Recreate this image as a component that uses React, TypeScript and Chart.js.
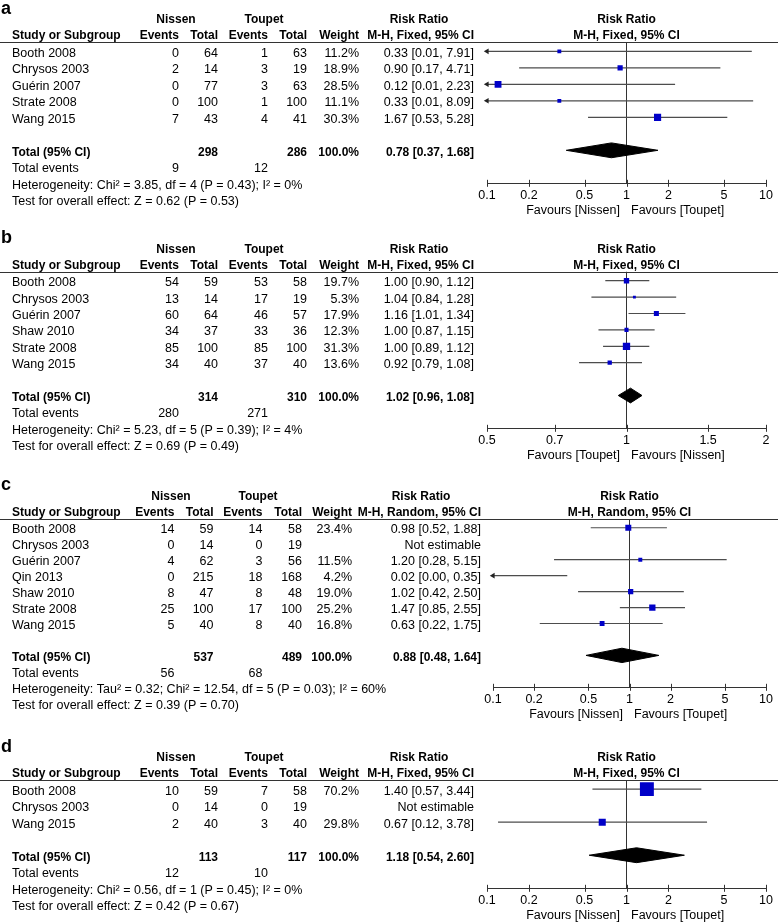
import React, { useEffect, useRef } from "react";
import { Chart, registerables } from "chart.js";
Chart.register(...registerables);

const FONT = '"Liberation Sans", Arial, Helvetica, sans-serif';

// ---------- Panel a ----------
const A_STUDY = ["Booth 2008", "Chrysos 2003", "Guérin 2007", "Strate 2008", "Wang 2015"];
const A_NISSEN_EVENTS = [0, 2, 0, 0, 7];
const A_NISSEN_TOTAL = [64, 14, 77, 100, 43];
const A_TOUPET_EVENTS = [1, 3, 3, 1, 4];
const A_TOUPET_TOTAL = [63, 19, 63, 100, 41];
const A_WEIGHT = [11.2, 18.9, 28.5, 11.1, 30.3];
const A_RR = [0.33, 0.9, 0.12, 0.33, 1.67];
const A_LO = [0.01, 0.17, 0.01, 0.01, 0.53];
const A_HI = [7.91, 4.71, 2.23, 8.09, 5.28];
const A_TOTALS = [298, 286];
const A_TOTAL_EVENTS = [9, 12];
const A_POOLED = [0.78, 0.37, 1.68];
const A_HET = "Heterogeneity: Chi² = 3.85, df = 4 (P = 0.43); I² = 0%";
const A_TEST = "Test for overall effect: Z = 0.62 (P = 0.53)";
const A_TICKS = [0.1, 0.2, 0.5, 1, 2, 5, 10];
const A_FAVOURS = ["Favours [Nissen]", "Favours [Toupet]"];

// ---------- Panel b ----------
const B_STUDY = ["Booth 2008", "Chrysos 2003", "Guérin 2007", "Shaw 2010", "Strate 2008", "Wang 2015"];
const B_NISSEN_EVENTS = [54, 13, 60, 34, 85, 34];
const B_NISSEN_TOTAL = [59, 14, 64, 37, 100, 40];
const B_TOUPET_EVENTS = [53, 17, 46, 33, 85, 37];
const B_TOUPET_TOTAL = [58, 19, 57, 36, 100, 40];
const B_WEIGHT = [19.7, 5.3, 17.9, 12.3, 31.3, 13.6];
const B_RR = [1.0, 1.04, 1.16, 1.0, 1.0, 0.92];
const B_LO = [0.9, 0.84, 1.01, 0.87, 0.89, 0.79];
const B_HI = [1.12, 1.28, 1.34, 1.15, 1.12, 1.08];
const B_TOTALS = [314, 310];
const B_TOTAL_EVENTS = [280, 271];
const B_POOLED = [1.02, 0.96, 1.08];
const B_HET = "Heterogeneity: Chi² = 5.23, df = 5 (P = 0.39); I² = 4%";
const B_TEST = "Test for overall effect: Z = 0.69 (P = 0.49)";
const B_TICKS = [0.5, 0.7, 1, 1.5, 2];
const B_FAVOURS = ["Favours [Toupet]", "Favours [Nissen]"];

// ---------- Panel c ----------
const C_STUDY = ["Booth 2008", "Chrysos 2003", "Guérin 2007", "Qin 2013", "Shaw 2010", "Strate 2008", "Wang 2015"];
const C_NISSEN_EVENTS = [14, 0, 4, 0, 8, 25, 5];
const C_NISSEN_TOTAL = [59, 14, 62, 215, 47, 100, 40];
const C_TOUPET_EVENTS = [14, 0, 3, 18, 8, 17, 8];
const C_TOUPET_TOTAL = [58, 19, 56, 168, 48, 100, 40];
const C_WEIGHT = [23.4, null, 11.5, 4.2, 19.0, 25.2, 16.8];
const C_RR = [0.98, null, 1.2, 0.02, 1.02, 1.47, 0.63];
const C_LO = [0.52, null, 0.28, 0.0, 0.42, 0.85, 0.22];
const C_HI = [1.88, null, 5.15, 0.35, 2.5, 2.55, 1.75];
const C_TOTALS = [537, 489];
const C_TOTAL_EVENTS = [56, 68];
const C_POOLED = [0.88, 0.48, 1.64];
const C_HET = "Heterogeneity: Tau² = 0.32; Chi² = 12.54, df = 5 (P = 0.03); I² = 60%";
const C_TEST = "Test for overall effect: Z = 0.39 (P = 0.70)";
const C_TICKS = [0.1, 0.2, 0.5, 1, 2, 5, 10];
const C_FAVOURS = ["Favours [Nissen]", "Favours [Toupet]"];

// ---------- Panel d ----------
const D_STUDY = ["Booth 2008", "Chrysos 2003", "Wang 2015"];
const D_NISSEN_EVENTS = [10, 0, 2];
const D_NISSEN_TOTAL = [59, 14, 40];
const D_TOUPET_EVENTS = [7, 0, 3];
const D_TOUPET_TOTAL = [58, 19, 40];
const D_WEIGHT = [70.2, null, 29.8];
const D_RR = [1.4, null, 0.67];
const D_LO = [0.57, null, 0.12];
const D_HI = [3.44, null, 3.78];
const D_TOTALS = [113, 117];
const D_TOTAL_EVENTS = [12, 10];
const D_POOLED = [1.18, 0.54, 2.6];
const D_HET = "Heterogeneity: Chi² = 0.56, df = 1 (P = 0.45); I² = 0%";
const D_TEST = "Test for overall effect: Z = 0.42 (P = 0.67)";
const D_TICKS = [0.1, 0.2, 0.5, 1, 2, 5, 10];
const D_FAVOURS = ["Favours [Nissen]", "Favours [Toupet]"];

type Panel = {
  letter: string;
  method: string;
  study: string[];
  ne: number[];
  nt: number[];
  te: number[];
  tt: number[];
  w: (number | null)[];
  rr: (number | null)[];
  lo: (number | null)[];
  hi: (number | null)[];
  totals: number[];
  totalEvents: number[];
  pooled: number[];
  het: string;
  test: string;
  ticks: number[];
  favours: string[];
  // layout
  top: number;
  height: number;
  headerY: number;
  axisY: number;
  plotL: number;
  plotR: number;
  cols: number[];
  nisC: number;
  touC: number;
  rrHeadC: number;
};

const COLS_STD = [179, 218, 268, 307, 359, 474];
const COLS_C = [174.5, 213.5, 262.5, 302, 352, 481];

const PANELS: Panel[] = [
  {
    letter: "a", method: "M-H, Fixed, 95% CI",
    study: A_STUDY, ne: A_NISSEN_EVENTS, nt: A_NISSEN_TOTAL, te: A_TOUPET_EVENTS, tt: A_TOUPET_TOTAL,
    w: A_WEIGHT, rr: A_RR, lo: A_LO, hi: A_HI, totals: A_TOTALS, totalEvents: A_TOTAL_EVENTS,
    pooled: A_POOLED, het: A_HET, test: A_TEST, ticks: A_TICKS, favours: A_FAVOURS,
    top: 0, height: 222, headerY: 42.3, axisY: 183.3, plotL: 487, plotR: 766,
    cols: COLS_STD, nisC: 176, touC: 264, rrHeadC: 419,
  },
  {
    letter: "b", method: "M-H, Fixed, 95% CI",
    study: B_STUDY, ne: B_NISSEN_EVENTS, nt: B_NISSEN_TOTAL, te: B_TOUPET_EVENTS, tt: B_TOUPET_TOTAL,
    w: B_WEIGHT, rr: B_RR, lo: B_LO, hi: B_HI, totals: B_TOTALS, totalEvents: B_TOTAL_EVENTS,
    pooled: B_POOLED, het: B_HET, test: B_TEST, ticks: B_TICKS, favours: B_FAVOURS,
    top: 222, height: 240, headerY: 271.7, axisY: 428.3, plotL: 487, plotR: 766,
    cols: COLS_STD, nisC: 176, touC: 264, rrHeadC: 419,
  },
  {
    letter: "c", method: "M-H, Random, 95% CI",
    study: C_STUDY, ne: C_NISSEN_EVENTS, nt: C_NISSEN_TOTAL, te: C_TOUPET_EVENTS, tt: C_TOUPET_TOTAL,
    w: C_WEIGHT, rr: C_RR, lo: C_LO, hi: C_HI, totals: C_TOTALS, totalEvents: C_TOTAL_EVENTS,
    pooled: C_POOLED, het: C_HET, test: C_TEST, ticks: C_TICKS, favours: C_FAVOURS,
    top: 462, height: 260, headerY: 519, axisY: 687.3, plotL: 493, plotR: 766,
    cols: COLS_C, nisC: 171, touC: 258, rrHeadC: 421,
  },
  {
    letter: "d", method: "M-H, Fixed, 95% CI",
    study: D_STUDY, ne: D_NISSEN_EVENTS, nt: D_NISSEN_TOTAL, te: D_TOUPET_EVENTS, tt: D_TOUPET_TOTAL,
    w: D_WEIGHT, rr: D_RR, lo: D_LO, hi: D_HI, totals: D_TOTALS, totalEvents: D_TOTAL_EVENTS,
    pooled: D_POOLED, het: D_HET, test: D_TEST, ticks: D_TICKS, favours: D_FAVOURS,
    top: 722, height: 201, headerY: 780, axisY: 888.3, plotL: 487, plotR: 766,
    cols: COLS_STD, nisC: 176, touC: 264, rrHeadC: 419,
  },
];

const W = 778;
const FS = 12.5;
const FSB = 12;
const TICK_PAD = 5;
const AXIS_H = FS * 1.2 + 2 * TICK_PAD;
const ROW_OFF = 0.55; // header line sits this many rows above first study
const DIAMOND_HALF = 0.45;
const MARKER_COLOR = "#0000c8";
const LINE_COLOR = "#4d4d4d";
const AXIS_COLOR = "#333333";

const markerSide = (w: number) => 2 + 0.17 * w;
const f2 = (v: number) => v.toFixed(2);
const ciText = (r: number, l: number, h: number) => `${f2(r)} [${f2(l)}, ${f2(h)}]`;

function txt(ctx: CanvasRenderingContext2D, s: string, x: number, y: number, align: CanvasTextAlign, bold = false, size?: number) {
  const sz = size ?? (bold ? FSB : FS);
  ctx.font = `${bold ? "bold " : ""}${sz}px ${FONT}`;
  ctx.textAlign = align;
  ctx.textBaseline = "middle";
  ctx.fillStyle = "#000";
  ctx.fillText(s, x, y);
}

function PanelChart({ p }: { p: Panel }) {
  const ref = useRef<HTMLCanvasElement | null>(null);
  useEffect(() => {
    const canvas = ref.current;
    if (!canvas) return;
    const n = p.study.length;
    const yMin = -ROW_OFF;
    const yMax = n + 3;
    const totRow = n + 1;
    const xMin = p.ticks[0];
    const xMax = p.ticks[p.ticks.length - 1];

    const datasets: any[] = [];
    // study markers (top-most)
    const pts: any[] = [];
    p.rr.forEach((r, i) => {
      if (r != null && r >= xMin && r <= xMax) pts.push({ x: r, y: i, w: p.w[i] });
    });
    datasets.push({
      type: "line", label: "Studies", data: pts, showLine: false,
      pointStyle: "rect",
      pointRadius: (c: any) => (c.raw ? markerSide(c.raw.w) / Math.SQRT2 : 0),
      pointBackgroundColor: MARKER_COLOR, pointBorderWidth: 0, pointBorderColor: MARKER_COLOR,
    });
    // arrows where CI goes off scale
    const arrows: any[] = [];
    p.lo.forEach((l, i) => {
      if (l != null && l < xMin) arrows.push({ x: xMin, y: i, dir: 270 });
      const h = p.hi[i];
      if (h != null && h > xMax) arrows.push({ x: xMax, y: i, dir: 90 });
    });
    datasets.push({
      type: "line", label: "Arrows", data: arrows, showLine: false, clip: false,
      pointStyle: "triangle", pointRadius: 3.2,
      pointRotation: (c: any) => (c.raw ? c.raw.dir : 0),
      pointBackgroundColor: "#222", pointBorderWidth: 0,
    });
    // pooled diamond
    const [est, plo, phi] = p.pooled;
    datasets.push({
      type: "line", label: "Pooled upper",
      data: [{ x: plo, y: totRow }, { x: est, y: totRow - DIAMOND_HALF }, { x: phi, y: totRow }],
      borderColor: "#000", borderWidth: 1, pointRadius: 0, tension: 0,
      fill: "+1", backgroundColor: "#000",
    });
    datasets.push({
      type: "line", label: "Pooled lower",
      data: [{ x: plo, y: totRow }, { x: est, y: totRow + DIAMOND_HALF }, { x: phi, y: totRow }],
      borderColor: "#000", borderWidth: 1, pointRadius: 0, tension: 0, fill: false,
    });
    // CI lines
    p.lo.forEach((l, i) => {
      const h = p.hi[i];
      if (l == null || h == null) return;
      datasets.push({
        type: "line", label: `CI ${p.study[i]}`,
        data: [{ x: Math.max(l, xMin), y: i }, { x: Math.min(h, xMax), y: i }],
        borderColor: LINE_COLOR, borderWidth: 1.2, pointRadius: 0, fill: false,
      });
    });
    // line of no effect
    datasets.push({
      type: "line", label: "No effect",
      data: [{ x: 1, y: yMin }, { x: 1, y: yMax }],
      borderColor: AXIS_COLOR, borderWidth: 1, pointRadius: 0, fill: false,
    });

    const tablePlugin = {
      id: "forestTable",
      afterDraw(chart: any) {
        const ctx: CanvasRenderingContext2D = chart.ctx;
        const ys = chart.scales.y;
        const xs = chart.scales.x;
        const area = chart.chartArea;
        const rowY = (i: number) => ys.getPixelForValue(i) + 2;
        const r0 = ys.getPixelForValue(0);
        const [c1, c2, c3, c4, c5, c6] = p.cols;
        const plotC = (area.left + area.right) / 2;
        ctx.save();
        // panel letter
        ctx.font = `bold 18px ${FONT}`;
        ctx.textAlign = "left";
        ctx.textBaseline = "alphabetic";
        ctx.fillStyle = "#000";
        ctx.fillText(p.letter, 1, r0 - 37.5);
        // headers
        const h1 = r0 - 31.3;
        const h2 = r0 - 15.5;
        txt(ctx, "Nissen", p.nisC, h1, "center", true);
        txt(ctx, "Toupet", p.touC, h1, "center", true);
        txt(ctx, "Risk Ratio", p.rrHeadC, h1, "center", true);
        txt(ctx, "Risk Ratio", plotC, h1, "center", true);
        txt(ctx, "Study or Subgroup", 12, h2, "left", true);
        txt(ctx, "Events", c1, h2, "right", true);
        txt(ctx, "Total", c2, h2, "right", true);
        txt(ctx, "Events", c3, h2, "right", true);
        txt(ctx, "Total", c4, h2, "right", true);
        txt(ctx, "Weight", c5, h2, "right", true);
        txt(ctx, p.method, c6, h2, "right", true);
        txt(ctx, p.method, plotC, h2, "center", true);
        // header rule
        ctx.strokeStyle = AXIS_COLOR;
        ctx.lineWidth = 1;
        ctx.beginPath();
        const hy = Math.round(area.top) + 0.5;
        ctx.moveTo(0, hy);
        ctx.lineTo(chart.width, hy);
        ctx.stroke();
        // rows
        p.study.forEach((s, i) => {
          const y = rowY(i);
          txt(ctx, s, 12, y, "left");
          txt(ctx, String(p.ne[i]), c1, y, "right");
          txt(ctx, String(p.nt[i]), c2, y, "right");
          txt(ctx, String(p.te[i]), c3, y, "right");
          txt(ctx, String(p.tt[i]), c4, y, "right");
          const w = p.w[i];
          if (w != null) txt(ctx, `${w.toFixed(1)}%`, c5, y, "right");
          const r = p.rr[i], l = p.lo[i], h = p.hi[i];
          txt(ctx, r != null && l != null && h != null ? ciText(r, l, h) : "Not estimable", c6, y, "right");
        });
        const n2 = p.study.length;
        const ty = rowY(n2 + 1);
        txt(ctx, "Total (95% CI)", 12, ty, "left", true);
        txt(ctx, String(p.totals[0]), c2, ty, "right", true);
        txt(ctx, String(p.totals[1]), c4, ty, "right", true);
        txt(ctx, "100.0%", c5, ty, "right", true);
        txt(ctx, ciText(p.pooled[0], p.pooled[1], p.pooled[2]), c6, ty, "right", true);
        const ey = rowY(n2 + 2);
        txt(ctx, "Total events", 12, ey, "left");
        txt(ctx, String(p.totalEvents[0]), c1, ey, "right");
        txt(ctx, String(p.totalEvents[1]), c3, ey, "right");
        txt(ctx, p.het, 12, rowY(n2 + 3), "left");
        txt(ctx, p.test, 12, rowY(n2 + 4), "left");
        // axis tick marks crossing the axis line
        const ay = area.bottom;
        ctx.strokeStyle = AXIS_COLOR;
        ctx.lineWidth = 1;
        xs.ticks.forEach((t: any) => {
          const px = Math.round(xs.getPixelForValue(t.value)) + 0.5;
          ctx.beginPath();
          ctx.moveTo(px, ay - 3.5);
          ctx.lineTo(px, ay + 3.5);
          ctx.stroke();
        });
        // favours labels
        const x1 = xs.getPixelForValue(1);
        txt(ctx, p.favours[0], x1 - 6.5, ay + 27, "right");
        txt(ctx, p.favours[1], x1 + 4.5, ay + 27, "left");
        ctx.restore();
      },
    };

    const chart = new Chart(canvas, {
      type: "line",
      data: { datasets },
      options: {
        animation: false,
        responsive: false,
        events: [],
        layout: {
          padding: {
            left: p.plotL,
            right: W - p.plotR,
            top: p.headerY - p.top,
            bottom: p.top + p.height - p.axisY - AXIS_H,
          },
        },
        plugins: { legend: { display: false }, tooltip: { enabled: false } },
        scales: {
          x: {
            type: "logarithmic",
            position: "bottom",
            min: xMin,
            max: xMax,
            afterBuildTicks: (s: any) => {
              s.ticks = p.ticks.map((v) => ({ value: v }));
            },
            ticks: {
              autoSkip: false,
              maxRotation: 0,
              minRotation: 0,
              padding: TICK_PAD,
              color: "#000",
              font: { family: FONT, size: FS },
              callback: (v: any) => String(v),
            },
            grid: { display: false, drawTicks: false, tickLength: 0 },
            border: { display: true, color: AXIS_COLOR, width: 1 },
          },
          y: { type: "linear", reverse: true, min: yMin, max: yMax, display: false },
        },
      } as any,
      plugins: [tablePlugin],
    });
    return () => chart.destroy();
  }, [p]);
  return (
    <canvas
      ref={ref}
      width={W}
      height={p.height}
      style={{ display: "block", width: W, height: p.height }}
    />
  );
}

export default function App() {
  useEffect(() => {
    document.body.style.margin = "0";
    document.body.style.background = "#fff";
  }, []);
  return (
    <div style={{ width: W, height: 923, background: "#fff", overflow: "hidden" }}>
      {PANELS.map((p) => (
        <PanelChart key={p.letter} p={p} />
      ))}
    </div>
  );
}
